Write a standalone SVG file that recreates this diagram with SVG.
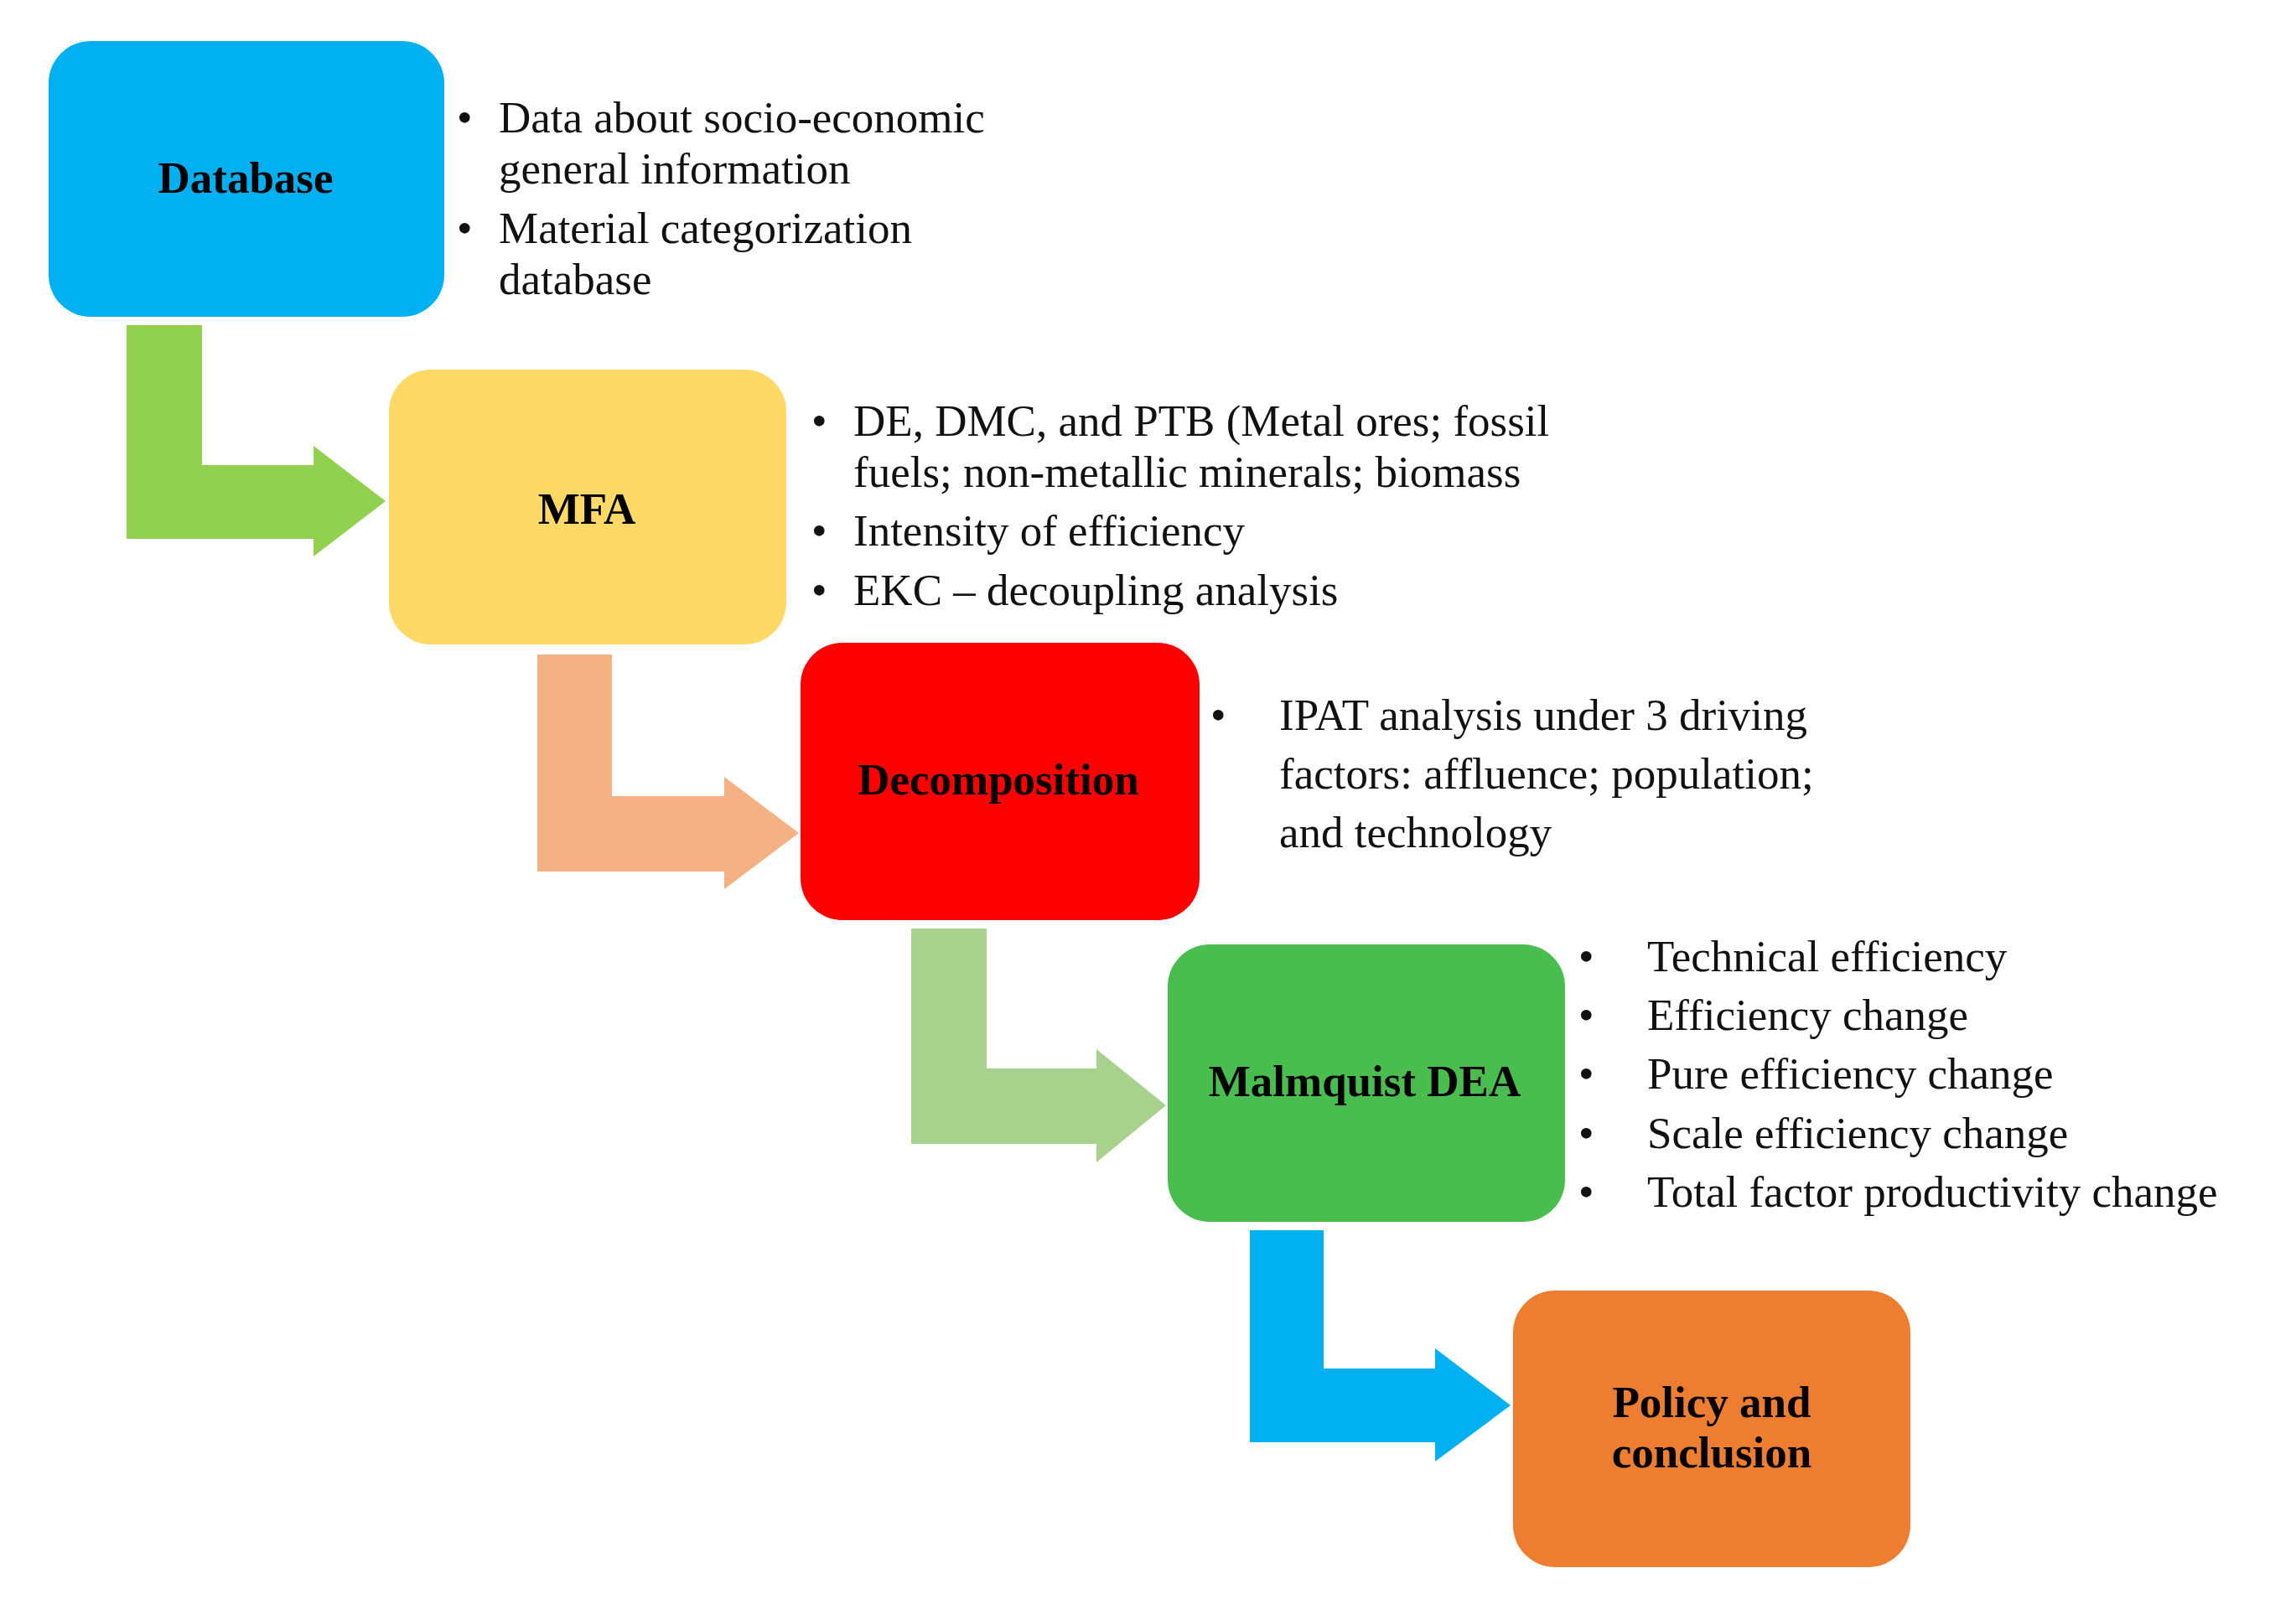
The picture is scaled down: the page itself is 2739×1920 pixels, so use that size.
<svg xmlns="http://www.w3.org/2000/svg" width="2739" height="1920" viewBox="0 0 2739 1920">
<style>
.lbl{font-family:"Liberation Serif",serif;font-weight:bold;font-size:53px;text-anchor:middle;fill:#000}
.t{font-family:"Liberation Serif",serif;font-size:53px;fill:#111}
</style>
<rect width="2739" height="1920" fill="#fff"/>
<g id="connectors">
<path d="M151,388 H241 V555 H374 V532 L460,598 L374,664 V643 H151 Z" fill="#92d050"/>
<path d="M641,781 H730 V950 H864 V927 L953,994 L864,1061 V1040 H641 Z" fill="#f4b183"/>
<path d="M1087,1108 H1177 V1275 H1308 V1252 L1391,1319 L1308,1387 V1365 H1087 Z" fill="#a9d18e"/>
<path d="M1491,1468 H1579 V1633 H1712 V1609 L1802,1677 L1712,1744 V1721 H1491 Z" fill="#00b0f0"/>
</g>
<g id="database">
<rect x="58" y="49" width="472" height="329" rx="50" fill="#00b0f0"/>
<text class="lbl" x="293" y="230">Database</text>
<text class="t" x="545" y="158">•</text><text class="t" x="595" y="158">Data about socio-economic</text>
<text class="t" x="595" y="219">general information</text>
<text class="t" x="545" y="290">•</text><text class="t" x="595" y="290">Material categorization</text>
<text class="t" x="595" y="351">database</text>
</g>
<g id="mfa">
<rect x="464" y="441" width="474" height="328" rx="50" fill="#ffd966"/>
<text class="lbl" x="700" y="625">MFA</text>
<text class="t" x="968" y="520">•</text><text class="t" x="1018" y="520">DE, DMC, and PTB (Metal ores; fossil</text>
<text class="t" x="1018" y="581">fuels; non-metallic minerals; biomass</text>
<text class="t" x="968" y="651">•</text><text class="t" x="1018" y="651">Intensity of efficiency</text>
<text class="t" x="968" y="722">•</text><text class="t" x="1018" y="722">EKC – decoupling analysis</text>
</g>
<g id="decomposition">
<rect x="955" y="767" width="476" height="331" rx="50" fill="#ff0000"/>
<text class="lbl" x="1191" y="948">Decomposition</text>
<text class="t" x="1444" y="871">•</text><text class="t" x="1526" y="871">IPAT analysis under 3 driving</text>
<text class="t" x="1526" y="941">factors: affluence; population;</text>
<text class="t" x="1526" y="1011">and technology</text>
</g>
<g id="malmquist">
<rect x="1393" y="1127" width="474" height="331" rx="50" fill="#4abd4f"/>
<text class="lbl" x="1628" y="1308">Malmquist DEA</text>
<text class="t" x="1883" y="1159">•</text><text class="t" x="1965" y="1159">Technical efficiency</text>
<text class="t" x="1883" y="1229">•</text><text class="t" x="1965" y="1229">Efficiency change</text>
<text class="t" x="1883" y="1299">•</text><text class="t" x="1965" y="1299">Pure efficiency change</text>
<text class="t" x="1883" y="1370">•</text><text class="t" x="1965" y="1370">Scale efficiency change</text>
<text class="t" x="1883" y="1440">•</text><text class="t" x="1965" y="1440">Total factor productivity change</text>
</g>
<g id="policy">
<rect x="1805" y="1540" width="474" height="330" rx="50" fill="#ed7d31"/>
<text class="lbl" x="2042" y="1691">Policy and</text>
<text class="lbl" x="2042" y="1751">conclusion</text>
</g>
</svg>
